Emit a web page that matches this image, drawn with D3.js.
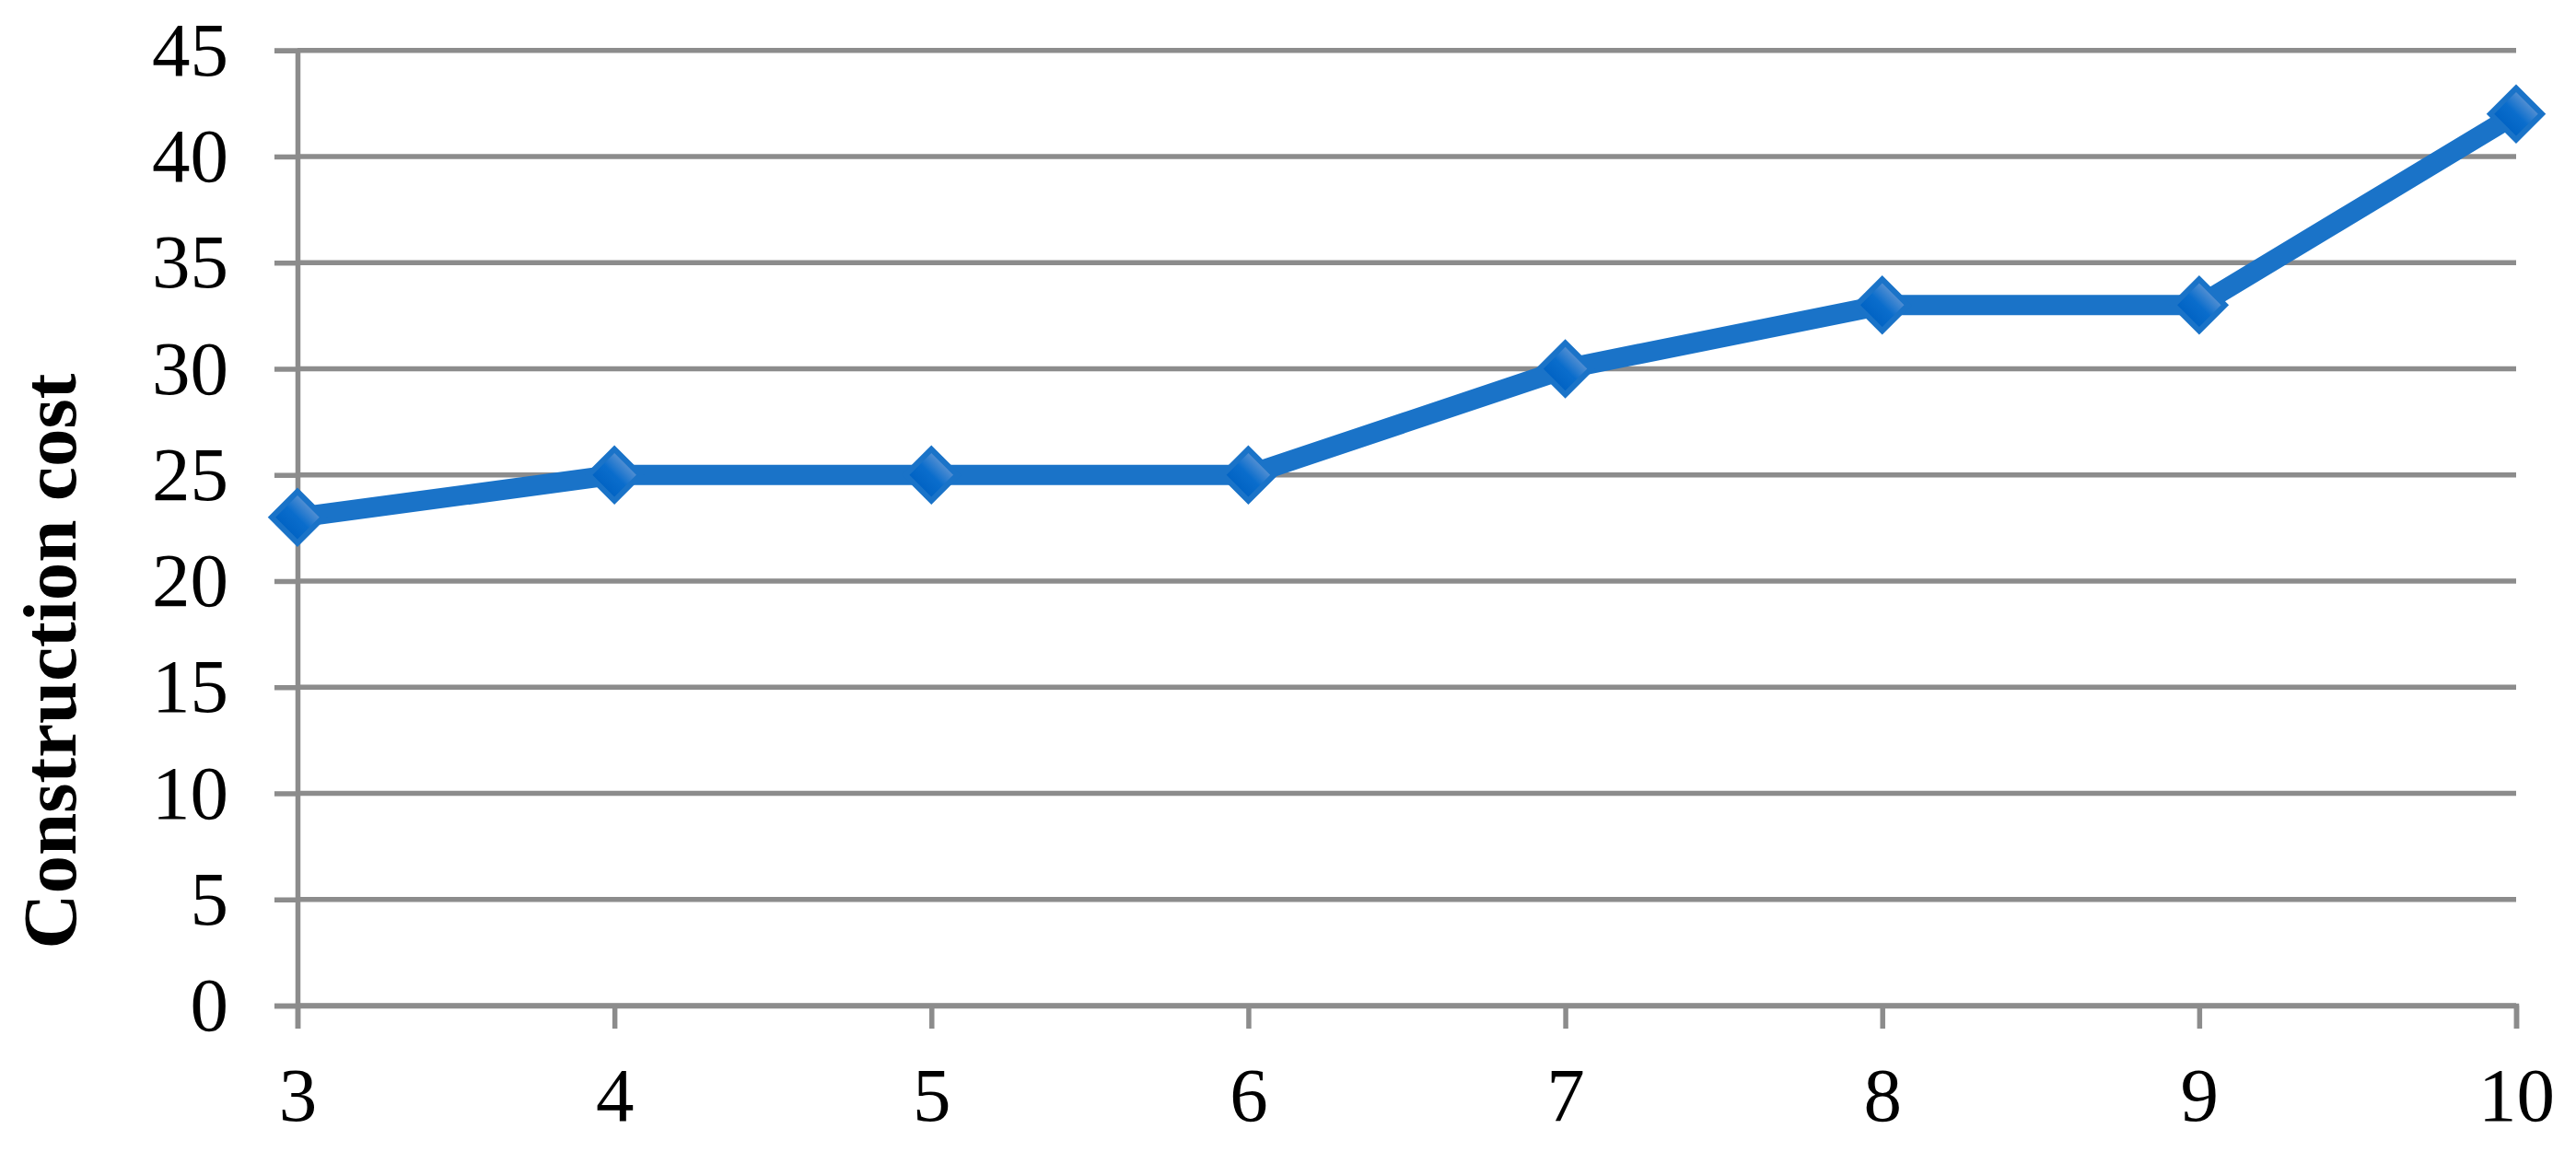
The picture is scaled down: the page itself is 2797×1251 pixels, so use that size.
<!DOCTYPE html>
<html>
<head>
<meta charset="utf-8">
<script src="https://cdn.jsdelivr.net/npm/d3@7"></script>
<style>
  body { margin:0; background:#fff; }
  svg { display:block; }
  .tick text { font-family:"Liberation Serif","Times New Roman",serif; font-size:83px; fill:#000; }
</style>
</head>
<body>
<svg width="2797" height="1251"></svg>
<script>
// values
var nodes = [3, 4, 5, 6, 7, 8, 9, 10];
var cost = [23, 25, 25, 25, 30, 33, 33, 42];
var yTicks = [0, 5, 10, 15, 20, 25, 30, 35, 40, 45];
var yLabel = 'Construction cost';

var margin = {top:54.7, right:65, bottom:159, left:323},
    width = 2797 - margin.left - margin.right,
    height = 1251 - margin.top - margin.bottom;

var data = nodes.map((n,i) => ({x:n, y:cost[i]}));

var svg = d3.select('svg');
var g = svg.append('g').attr('transform','translate('+margin.left+','+margin.top+')');

var x = d3.scaleLinear().domain([3,10]).range([0,width]);
var y = d3.scaleLinear().domain([0,45]).range([height,0]);

var defs = svg.append('defs');
var grad = defs.append('linearGradient')
    .attr('id','mk').attr('x1',0).attr('y1',0).attr('x2',0).attr('y2',1);
grad.append('stop').attr('offset','0%').attr('stop-color','#5b93d3');
grad.append('stop').attr('offset','50%').attr('stop-color','#0a6dcc');
grad.append('stop').attr('offset','100%').attr('stop-color','#0062c3');

// gridlines
g.selectAll('.grid')
    .data(yTicks)
    .join('line')
    .attr('class','grid')
    .attr('x1',0)
    .attr('x2',width)
    .attr('y1',d => y(d))
    .attr('y2',d => y(d))
    .attr('stroke','#8c8c8c')
    .attr('stroke-width',5.5);

// y axis
var yAxis = g.append('g')
    .call(d3.axisLeft(y).tickValues(yTicks).tickSize(25).tickPadding(50).tickFormat(d3.format('d')));

// x axis
var xAxis = g.append('g')
    .attr('transform','translate(0,'+height+')')
    .call(d3.axisBottom(x).tickValues(nodes).tickSize(25).tickPadding(41).tickFormat(d3.format('d')));

svg.selectAll('.domain, .tick line')
    .attr('stroke','#8c8c8c')
    .attr('stroke-width',5.5);

// series line
var line = d3.line().x(d => x(d.x)).y(d => y(d.y));
g.append('path')
    .datum(data)
    .attr('d',line)
    .attr('fill','none')
    .attr('stroke','#1a73c8')
    .attr('stroke-width',22)
    .attr('stroke-linejoin','round');

// diamond markers
var sym = d3.symbol().type(d3.symbolSquare).size(1568);
g.selectAll('.mark')
    .data(data)
    .join('path')
    .attr('class','mark')
    .attr('d',sym)
    .attr('transform',d => 'translate('+x(d.x)+','+y(d.y)+') rotate(45)')
    .attr('fill','url(#mk)')
    .attr('stroke','#1a73c8')
    .attr('stroke-width',6)
    .attr('stroke-linejoin','miter');

// axis title
svg.append('text')
    .attr('transform','translate(82,718) rotate(-90)')
    .attr('text-anchor','middle')
    .style('font-family','"Liberation Serif","Times New Roman",serif')
    .style('font-weight','bold')
    .style('font-size','83px')
    .text(yLabel);
</script>
</body>
</html>
